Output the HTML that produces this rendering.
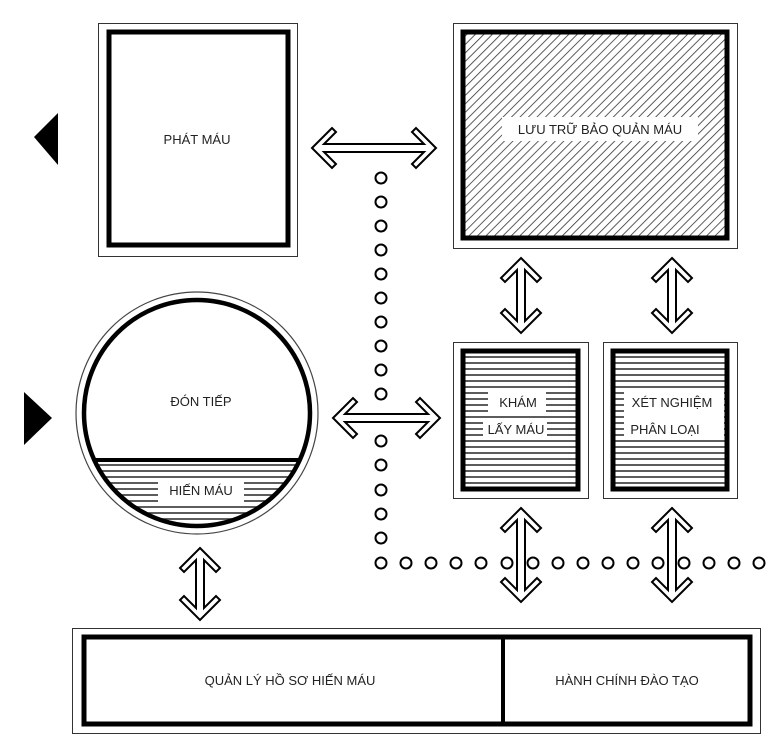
<!DOCTYPE html>
<html><head><meta charset="utf-8"><style>
html,body{margin:0;padding:0;background:#fff;width:781px;height:745px;overflow:hidden}
text{font-family:"Liberation Sans Narrow","Liberation Sans",sans-serif;font-size:13px;fill:#222}
</style></head><body>
<svg width="781" height="745" viewBox="0 0 781 745" xmlns="http://www.w3.org/2000/svg">
<defs>
<pattern id="diag" patternUnits="userSpaceOnUse" width="6" height="6" patternTransform="rotate(45)">
<rect width="6" height="6" fill="#fff"/><line x1="0" y1="0" x2="0" y2="6" stroke="#333" stroke-width="1.6"/>
</pattern>
<pattern id="hor" patternUnits="userSpaceOnUse" width="6" height="6">
<rect width="6" height="6" fill="#fff"/><line x1="0" y1="3" x2="6" y2="3" stroke="#333" stroke-width="1.6"/>
</pattern>
<clipPath id="cc"><circle cx="197" cy="413" r="113"/></clipPath>
</defs>

<!-- triangles -->
<polygon points="34,137 58,113 58,165" fill="#000"/>
<polygon points="24,392 24,445 52,418" fill="#000"/>

<!-- PHAT MAU -->
<rect x="98.5" y="23.5" width="199" height="233" fill="#fff" stroke="#333" stroke-width="1"/>
<rect x="109" y="32" width="179" height="213" fill="#fff" stroke="#000" stroke-width="5"/>
<text x="197" y="144" text-anchor="middle">PHÁT MÁU</text>

<!-- LUU TRU -->
<rect x="453.5" y="23.5" width="284" height="225" fill="#fff" stroke="#333" stroke-width="1"/>
<rect x="463" y="32" width="264" height="206" fill="url(#diag)" stroke="#000" stroke-width="5"/>
<rect x="502" y="117" width="196" height="24" fill="#fff"/>
<text x="600" y="134" text-anchor="middle">LƯU TRỮ BẢO QUẢN MÁU</text>

<!-- KHAM -->
<rect x="453.5" y="342.5" width="135" height="156" fill="#fff" stroke="#333" stroke-width="1"/>
<rect x="463" y="351" width="115" height="138" fill="url(#hor)" stroke="#000" stroke-width="5"/>
<rect x="488" y="392" width="58" height="20" fill="#fff"/>
<rect x="483" y="419" width="64" height="20" fill="#fff"/>
<text x="518" y="407" text-anchor="middle">KHÁM</text>
<text x="516" y="434" text-anchor="middle">LẤY MÁU</text>

<!-- XET -->
<rect x="603.5" y="342.5" width="134" height="156" fill="#fff" stroke="#333" stroke-width="1"/>
<rect x="613" y="351" width="114" height="138" fill="url(#hor)" stroke="#000" stroke-width="5"/>
<rect x="624" y="392" width="100" height="46" fill="#fff"/>
<text x="672" y="407" text-anchor="middle">XÉT NGHIỆM</text>
<text x="665" y="434" text-anchor="middle">PHÂN LOẠI</text>

<!-- circle -->
<circle cx="197" cy="413" r="121" fill="#fff" stroke="#444" stroke-width="1.2"/>
<rect x="70" y="460" width="260" height="80" fill="url(#hor)" clip-path="url(#cc)"/>
<circle cx="197" cy="413" r="113" fill="none" stroke="#000" stroke-width="4.5"/>
<line x1="80" y1="460" x2="314" y2="460" stroke="#000" stroke-width="4" clip-path="url(#cc)"/>
<rect x="158" y="478" width="86" height="24" fill="#fff"/>
<text x="201" y="406" text-anchor="middle">ĐÓN TIẾP</text>
<text x="201" y="495" text-anchor="middle">HIẾN MÁU</text>

<!-- dots -->
<g fill="#fff" stroke="#000" stroke-width="2">
<circle cx="381" cy="178" r="5.5"/><circle cx="381" cy="202" r="5.5"/><circle cx="381" cy="226" r="5.5"/><circle cx="381" cy="250" r="5.5"/><circle cx="381" cy="274" r="5.5"/><circle cx="381" cy="298" r="5.5"/><circle cx="381" cy="322" r="5.5"/><circle cx="381" cy="346" r="5.5"/><circle cx="381" cy="370" r="5.5"/><circle cx="381" cy="394" r="5.5"/><circle cx="381" cy="441" r="5.5"/><circle cx="381" cy="465" r="5.5"/><circle cx="381" cy="490" r="5.5"/><circle cx="381" cy="514" r="5.5"/><circle cx="381" cy="538" r="5.5"/><circle cx="381" cy="563" r="5.5"/>
<circle cx="406" cy="563" r="5.5"/><circle cx="431" cy="563" r="5.5"/><circle cx="456" cy="563" r="5.5"/><circle cx="481" cy="563" r="5.5"/><circle cx="507" cy="563" r="5.5"/><circle cx="533" cy="563" r="5.5"/><circle cx="558" cy="563" r="5.5"/><circle cx="583" cy="563" r="5.5"/><circle cx="608" cy="563" r="5.5"/><circle cx="633" cy="563" r="5.5"/><circle cx="658" cy="563" r="5.5"/><circle cx="684" cy="563" r="5.5"/><circle cx="709" cy="563" r="5.5"/><circle cx="734" cy="563" r="5.5"/><circle cx="759" cy="563" r="5.5"/>
</g>

<!-- arrows -->
<g fill="#fff" stroke="#000" stroke-width="2" stroke-linejoin="miter">
<polygon points="312,148 332,128 336,132 324,144 424,144 412,132 416,128 436,148 416,168 412,164 424,152 324,152 336,164 332,168"/>
<polygon points="333,418 353,398 357,402 345,414 428,414 416,402 420,398 440,418 420,438 416,434 428,422 345,422 357,434 353,438"/>
<polygon points="521,258 541,278 537,282 525,270 525,321 537,309 541,313 521,333 501,313 505,309 517,321 517,270 505,282 501,278"/>
<polygon points="672,258 692,278 688,282 676,270 676,321 688,309 692,313 672,333 652,313 656,309 668,321 668,270 656,282 652,278"/>
<polygon points="521,508 541,528 537,532 525,520 525,590 537,578 541,582 521,602 501,582 505,578 517,590 517,520 505,532 501,528" fill="none"/>
<polygon points="672,508 692,528 688,532 676,520 676,590 688,578 692,582 672,602 652,582 656,578 668,590 668,520 656,532 652,528" fill="none"/>
<polygon points="200,548 220,568 216,572 204,560 204,608 216,596 220,600 200,620 180,600 184,596 196,608 196,560 184,572 180,568"/>
</g>

<!-- bottom -->
<rect x="72.5" y="628.5" width="688" height="105" fill="#fff" stroke="#333" stroke-width="1"/>
<rect x="84" y="637" width="666" height="87" fill="#fff" stroke="#000" stroke-width="5"/>
<line x1="503" y1="637" x2="503" y2="724" stroke="#000" stroke-width="4"/>
<text x="290" y="685" text-anchor="middle">QUẢN LÝ HỒ SƠ HIẾN MÁU</text>
<text x="627" y="685" text-anchor="middle">HÀNH CHÍNH ĐÀO TẠO</text>
</svg>
</body></html>
